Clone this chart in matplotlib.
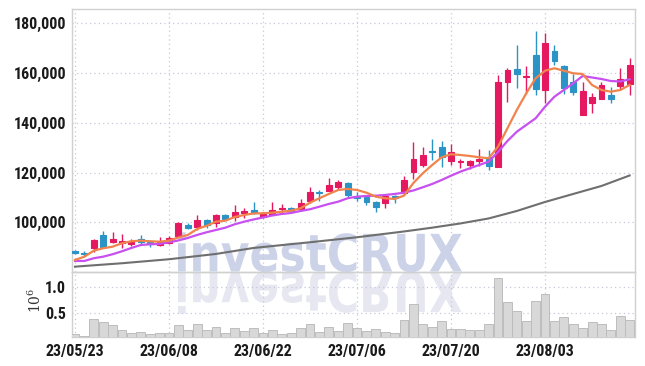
import matplotlib
matplotlib.use("Agg")
import matplotlib.pyplot as plt
import numpy as np
from matplotlib.textpath import TextPath
from matplotlib.patches import PathPatch
from matplotlib.font_manager import FontProperties
import matplotlib.transforms as mtransforms

# ---------------- data ----------------
date_labels = ["23/05/23", "23/06/08", "23/06/22", "23/07/06", "23/07/20", "23/08/03"]
date_label_idx = [0, 10, 20, 30, 40, 50]

opens = [88500, 87800, 89790, 94900, 92080, 91800, 91400, 93290, 92200, 91000,
         91560, 94610, 98900, 98230, 100920, 99600, 102930, 102010, 103860, 104950,
         102010, 103220, 105230, 105870, 105470, 108680, 112300, 112700, 114310, 115920,
         110050, 110290, 108280, 107640, 110570, 111660, 120340, 123030, 128660, 130390,
         124760, 124120, 123030, 124760, 126130, 122350, 156280, 161630, 158410, 167250,
         153180, 168860, 162950, 156520, 143130, 148080, 149570, 151180, 154910, 155600]
highs = [88850, 88250, 93300, 96620, 96220, 95180, 93100, 94900, 92880, 94200,
         94490, 100120, 99840, 102930, 101330, 103340, 103140, 106950, 105630, 108040,
         103940, 108040, 107360, 106270, 109250, 114070, 112780, 117690, 116800, 116000,
         112300, 110570, 108560, 110970, 110770, 118730, 132400, 130390, 133370, 132680,
         131590, 125450, 125050, 129470, 129060, 159210, 162150, 171270, 162830, 176900,
         175980, 171270, 163230, 159500, 156280, 151860, 156520, 154510, 162150, 165930]
lows = [87250, 86150, 88180, 89870, 91560, 89550, 90270, 91160, 90200, 90470,
        91080, 93970, 97300, 96900, 97590, 98230, 101130, 100520, 101610, 103340,
        101730, 102930, 103620, 104140, 105150, 107880, 108680, 112580, 112980, 110290,
        108680, 106950, 104020, 105630, 107880, 111380, 117290, 122110, 125040, 122350,
        123030, 121710, 121310, 122750, 121020, 122030, 148480, 153870, 151460, 151180,
        147840, 163230, 151460, 151180, 142930, 143820, 149370, 147840, 153180, 151180]
closes = [87650, 87150, 92885, 90200, 93290, 92360, 92480, 91960, 91280, 92080,
          93570, 99840, 97590, 100920, 98910, 102930, 101330, 104260, 104540, 103620,
          103620, 104950, 105750, 104660, 107640, 112300, 111660, 114990, 116320, 110970,
          109650, 108040, 106270, 110570, 109770, 117000, 125450, 127050, 128380, 126370,
          128260, 124760, 124760, 125450, 122750, 156280, 161220, 159740, 158810, 153590,
          171960, 164960, 153870, 152500, 152780, 150490, 155200, 149450, 157610, 163230]

ma_short = [84845, 86170, 88580, 89550, 90190, 91560, 92360, 92600, 92360, 92200,
            92600, 93890, 94900, 97300, 98590, 100240, 100640, 102130, 102930, 103540,
            103620, 103860, 104260, 104660, 105630, 107880, 109650, 111380, 112980, 113390,
            112980, 111900, 110290, 109650, 109370, 110690, 115800, 119700, 123030, 126130,
            127340, 127050, 126650, 126130, 125730, 130390, 137790, 145150, 151860, 157890,
            160940, 161910, 160940, 159900, 159620, 155200, 153180, 152500, 153180, 155200]
ma_mid = [84440, 84440, 85530, 86170, 87140, 88340, 89670, 90870, 91160, 91280,
          91960, 92680, 93690, 94900, 95980, 96900, 97830, 99200, 100240, 101130,
          101930, 102730, 103340, 103740, 104540, 105230, 106270, 107360, 108280, 109650,
          110290, 110570, 110690, 110970, 111380, 111900, 112780, 114070, 115400, 117000,
          118730, 120340, 121710, 123030, 124360, 128260, 132680, 136420, 139110, 141810,
          146470, 150490, 153180, 155880, 158810, 158210, 157610, 156800, 156600, 157490]
ma_long_idx = [0, 5, 10, 15, 19, 25, 30, 35, 38, 41, 44, 47, 50, 53, 56, 59]
ma_long = [82150, 83520, 85130, 87260, 89670, 91960, 93970, 96300, 97830, 99520,
           101530, 104540, 108160, 111380, 114590, 118810]

volume = [0.096, 0.07, 0.385, 0.327, 0.275, 0.173, 0.115, 0.14, 0.096, 0.115,
          0.115, 0.275, 0.179, 0.288, 0.173, 0.242, 0.115, 0.211, 0.16, 0.211,
          0.115, 0.173, 0.096, 0.115, 0.211, 0.288, 0.146, 0.242, 0.16, 0.308,
          0.211, 0.154, 0.192, 0.135, 0.115, 0.365, 0.673, 0.288, 0.231, 0.346,
          0.192, 0.192, 0.173, 0.173, 0.288, 1.173, 0.712, 0.538, 0.346, 0.731,
          0.865, 0.346, 0.423, 0.288, 0.211, 0.327, 0.288, 0.173, 0.442, 0.365]

price_ticks = [100000, 120000, 140000, 160000, 180000]
vol_ticks = [0.5, 1.0]

# ---------------- style ----------------
UP = "#e5195f"
DOWN = "#2b93c6"
C_SHORT = "#f0844c"
C_MID = "#c84ff0"
C_LONG = "#6f6f6f"
GRID = "#c6c9dc"
SPINE = "#d0d0d0"
TICKFONT = ['Roboto Condensed', 'Liberation Sans']
TICKSIZE = 11.5

W, H = 645, 366
fig = plt.figure(figsize=(W / 100, H / 100), dpi=100)
fig.patch.set_facecolor("white")

def fx(px):
    return px / W

def fy(py):
    return 1 - py / H

ax = fig.add_axes([fx(71.7), fy(272), fx(635) - fx(71.7), fy(9.3) - fy(272)])
axv = fig.add_axes([fx(71.7), fy(337.3), fx(635) - fx(71.7), fy(272) - fy(337.3)], sharex=ax)
for a in (ax, axv):
    a.set_facecolor("none")
    for s in a.spines.values():
        s.set_color(SPINE)
        s.set_linewidth(1.0)
    a.grid(True, linestyle=(0, (1, 2.5)), color=GRID, linewidth=0.9)
    a.set_axisbelow(True)
    a.tick_params(length=0)

n = len(closes)
x = np.arange(n)
o = np.array(opens); c = np.array(closes)
hi = np.array(highs); lo = np.array(lows)
colors = [UP if cc >= oo else DOWN for oo, cc in zip(o, c)]

ax.vlines(x, lo, hi, colors=colors, linewidth=1.0, zorder=3)
ax.bar(x, np.abs(c - o), bottom=np.minimum(o, c), width=0.62, color=colors,
       edgecolor=colors, linewidth=0.8, zorder=4)

ax.plot(ma_long_idx, ma_long, color=C_LONG, linewidth=1.5, zorder=5)
ax.plot(x, ma_mid, color=C_MID, linewidth=1.6, zorder=5)
ax.plot(x, ma_short, color=C_SHORT, linewidth=1.6, zorder=6)

ax.set_xlim(-0.35, 59.57)
ax.set_ylim(80000, 185630)
ax.set_yticks(price_ticks)
ax.set_yticklabels([f"{v:,}" for v in price_ticks], fontfamily=TICKFONT,
                   fontweight="bold", fontsize=TICKSIZE, color="#1a1a1a")
ax.tick_params(axis="y", pad=4)
ax.tick_params(axis="x", labelbottom=False)
ax.set_xticks(date_label_idx)

axv.bar(x, volume, width=0.95, color="#d8d8d8", edgecolor="#bdbdbd", linewidth=0.7, zorder=3)
axv.set_ylim(0.038, 1.294)
axv.set_yticks(vol_ticks)
axv.set_yticklabels([f"{v:.1f}" for v in vol_ticks], fontfamily=TICKFONT,
                    fontweight="bold", fontsize=TICKSIZE, color="#1a1a1a")
axv.tick_params(axis="y", pad=4)
axv.set_xticks(date_label_idx)
axv.set_xticklabels(date_labels, fontfamily=TICKFONT, fontweight="bold",
                    fontsize=TICKSIZE, color="#1a1a1a")
axv.tick_params(axis="x", pad=5)

fig.text(fx(35), fy(300), r"$10^6$", rotation=90, ha="center", va="center",
         fontsize=10, color="#333333", math_fontfamily="dejavuserif")

# ---------------- watermark with reflection ----------------
tp = TextPath((0, 0), "investCRUX", size=100,
              prop=FontProperties(family="DejaVu Sans", weight="bold"))
bb = tp.get_extents()
sx = 284 / bb.width
sy = 40 / bb.height
base_x, base_y = 178, H - 271.5
tr_main = (mtransforms.Affine2D().translate(-bb.x0, 0).scale(sx, sy)
           .translate(base_x, base_y).scale(1 / W, 1 / H) + fig.transFigure)
tr_refl = (mtransforms.Affine2D().translate(-bb.x0, 0).scale(sx, -sy * 1.05)
           .translate(base_x, base_y - 1).scale(1 / W, 1 / H) + fig.transFigure)
fig.add_artist(PathPatch(tp, transform=tr_main, facecolor="#ccd3e8",
                         edgecolor="none", zorder=-5))
fig.add_artist(PathPatch(tp, transform=tr_refl, facecolor="#e6e7f0",
                         edgecolor="none", zorder=-5))

fig.savefig("out.png", dpi=100, facecolor="white")
